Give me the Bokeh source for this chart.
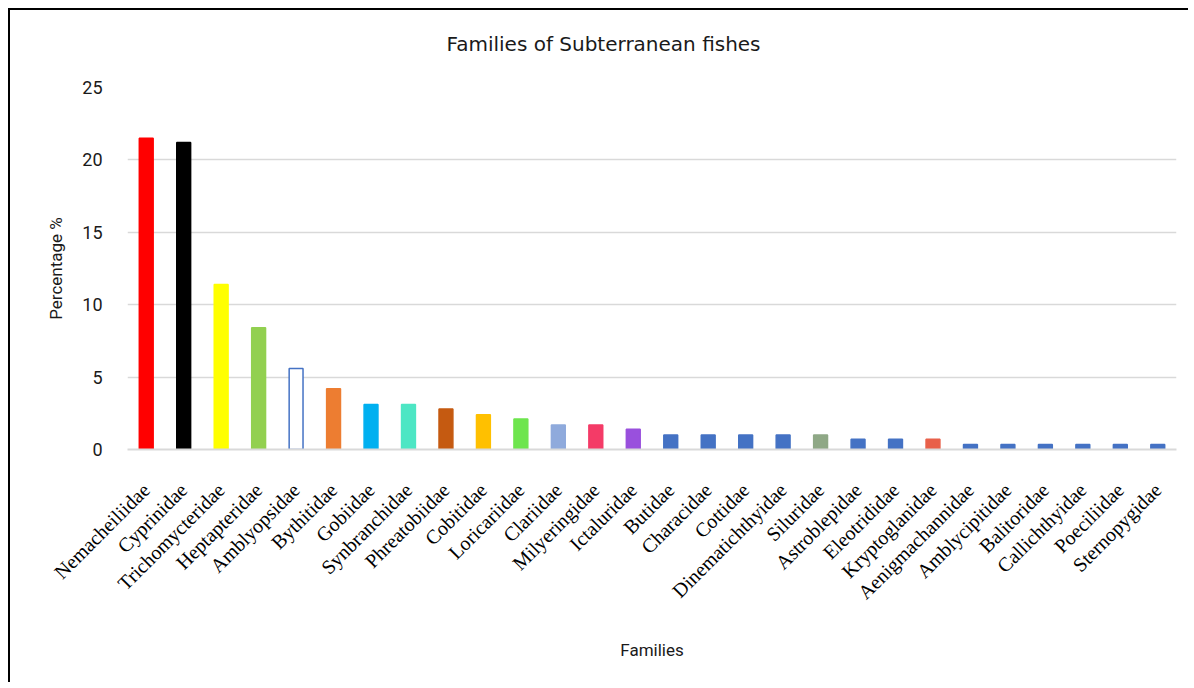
from bokeh.plotting import figure
from bokeh.models import ColumnDataSource, FixedTicker, FactorRange, Range1d, Title
from bokeh.embed import file_html
from bokeh.resources import INLINE
import math

families = ["Nemacheiliidae", "Cyprinidae", "Trichomycteridae", "Heptapteridae",
            "Amblyopsidae", "Bythitidae", "Gobiidae", "Synbranchidae", "Phreatobiidae",
            "Cobitidae", "Loricariidae", "Clariidae", "Milyeringidae", "Ictaluridae",
            "Butidae", "Characidae", "Cottidae", "Dinematichthyidae", "Siluridae",
            "Astroblepidae", "Eleotrididae", "Kryptoglanidae", "Aenigmachannidae",
            "Amblycipitidae", "Balitoridae", "Callichthyidae", "Poeciliidae", "Sternopygidae"]
percentages = [21.5, 21.2, 11.4, 8.4, 5.6, 4.2, 3.1, 3.1, 2.8, 2.4, 2.1, 1.7, 1.7, 1.4,
               1.0, 1.0, 1.0, 1.0, 1.0, 0.7, 0.7, 0.7, 0.35, 0.35, 0.35, 0.35, 0.35, 0.35]
fill_colors = ["#FF0000", "#000000", "#FFFF00", "#92D050", "#FFFFFF", "#ED7D31", "#00B0F0",
               "#4DE6C4", "#C55A11", "#FFC000", "#6EE54E", "#8FAADC", "#F43B67", "#9950DD",
               "#4472C4", "#4472C4", "#4472C4", "#4472C4", "#8FA886", "#4472C4", "#4472C4",
               "#E8604A", "#4472C4", "#4472C4", "#4472C4", "#4472C4", "#4472C4", "#4472C4"]
line_colors = [c if c != "#FFFFFF" else "#4472C4" for c in fill_colors]
y_ticks = [0, 5, 10, 15, 20, 25]

source = ColumnDataSource(dict(x=families, top=percentages, fill=fill_colors, line=line_colors))

p = figure(x_range=FactorRange(*families), y_range=Range1d(0, 25),
           width=1180, height=674, output_backend="svg", toolbar_location=None,
           min_border_left=117, min_border_right=14, min_border_top=77, min_border_bottom=235)
p.styles = {"margin-left": "10px", "margin-top": "10px",
            "box-shadow": "-2px -2px 0px 0px black"}

p.vbar(x="x", top="top", width=0.37, source=source, fill_color="fill",
       line_color="line", line_width=1.5)

spacer = Title(text=" ", text_font_size="1px", standoff=24)
p.add_layout(spacer, "above")
title = Title(text="Families of Subterranean fishes", align="left", offset=319,
              text_font="DejaVu Sans", text_font_size="20px", text_font_style="normal",
              text_color="#1a1a1a", standoff=10)
p.add_layout(title, "above")

p.outline_line_color = None
p.background_fill_color = "white"
p.border_fill_color = "white"

p.xgrid.grid_line_color = None
p.ygrid.grid_line_color = "#D9D9D9"
p.ygrid.grid_line_width = 1.5
p.yaxis.ticker = FixedTicker(ticks=y_ticks)

p.yaxis.axis_line_color = None
p.yaxis.major_tick_line_color = None
p.yaxis.minor_tick_line_color = None
p.yaxis.major_label_text_font = "Roboto"
p.yaxis.major_label_text_font_size = "18px"
p.yaxis.major_label_text_color = "#1a1a1a"
p.yaxis.major_label_standoff = 19
p.yaxis.axis_label = "Percentage %"
p.yaxis.axis_label_text_font = "Roboto"
p.yaxis.axis_label_text_font_style = "normal"
p.yaxis.axis_label_text_font_size = "17px"
p.yaxis.axis_label_text_color = "#1a1a1a"
p.yaxis.axis_label_standoff = 13

p.xaxis.axis_line_color = "#D9D9D9"
p.xaxis.axis_line_width = 2
p.xaxis.major_tick_line_color = None
p.xaxis.minor_tick_line_color = None
p.xaxis.major_label_orientation = math.pi / 4
p.xaxis.major_label_text_font = "Liberation Serif"
p.xaxis.major_label_text_font_size = "20px"
p.xaxis.major_label_text_color = "#000000"
p.xaxis.major_label_standoff = 31
p.xaxis.axis_label = "Families"
p.xaxis.axis_label_text_font = "Roboto"
p.xaxis.axis_label_text_font_style = "normal"
p.xaxis.axis_label_text_font_size = "17px"
p.xaxis.axis_label_text_color = "#1a1a1a"
p.xaxis.axis_label_standoff = 26

open("out.html", "w").write(file_html(p, INLINE))
